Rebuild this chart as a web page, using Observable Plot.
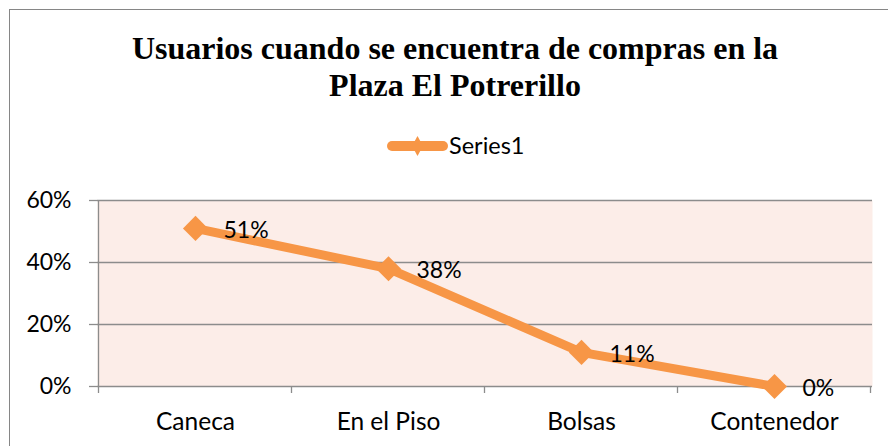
<!DOCTYPE html>
<html>
<head>
<meta charset="utf-8">
<script src="https://cdn.jsdelivr.net/npm/d3@7"></script>
<script src="https://cdn.jsdelivr.net/npm/@observablehq/plot@0.6"></script>
<style>
  html, body { margin: 0; padding: 0; background: #fff; overflow: hidden; }
  #wrap { position: relative; width: 888px; height: 446px; overflow: hidden; background: #fff; }
  #border { position: absolute; left: 9px; top: 9px; width: 1000px; height: 1000px; border: 1px solid #868686; box-sizing: border-box; }
  #title { position: absolute; left: 9px; width: 892px; top: 30px; text-align: center;
           font-family: "Liberation Serif", "Times New Roman", serif; font-weight: bold; font-size: 32px; line-height: 37px; color: #000; }
  #legend-swatch { position: absolute; left: 382px; top: 132px; }
  #legend-text { position: absolute; left: 449px; top: 131px; font-family: Lato, sans-serif; font-size: 23.5px; line-height: 1.2; color: #000; white-space: nowrap; }
  #chart { position: absolute; left: 0; top: 0; }
</style>
</head>
<body>
<div id="wrap">
  <div id="border"></div>
  <div id="title">Usuarios cuando se encuentra de compras en la<br>Plaza El Potrerillo</div>
  <svg id="legend-swatch" width="72" height="28"></svg>
  <div id="legend-text"></div>
  <div id="chart"></div>
</div>
<script>
// ---- data ----
const categories = ["Caneca", "En el Piso", "Bolsas", "Contenedor"];
const values = [0.51, 0.38, 0.11, 0.00];
const yTicks = [0, 0.2, 0.4, 0.6];
const seriesName = "Series1";

// ---- styles ----
const orange = "#F79646";
const gridColor = "#8c8c8c";
const plotFill = "#fcede8";
const fmt = d3.format(".0%");

const data = categories.map((c, i) => ({cat: c, value: values[i]}));

const diamond = {
  draw(ctx, size) {
    const r = Math.sqrt(size / 2);
    ctx.moveTo(0, -r); ctx.lineTo(r, 0); ctx.lineTo(0, r); ctx.lineTo(-r, 0); ctx.closePath();
  }
};

// axis line + category boundary ticks, positioned from the scales
const axisFrame = (index, scales) => {
  const xs = categories.map(c => scales.x(c));
  const step = xs[1] - xs[0];
  const bounds = [xs[0] - step / 2, ...xs.map(x => x + step / 2)];
  const y0 = scales.y(0), yTop = scales.y(d3.max(yTicks));
  const g = d3.create("svg:g").attr("stroke", gridColor).attr("stroke-width", 1.3);
  g.append("line").attr("x1", bounds[0]).attr("x2", bounds[0]).attr("y1", yTop).attr("y2", y0);
  g.selectAll(null).data(bounds).join("line")
    .attr("x1", d => d).attr("x2", d => d).attr("y1", y0).attr("y2", y0 + 7);
  return g.node();
};

const chart = Plot.plot({
  width: 888,
  height: 446,
  marginLeft: 97,
  marginRight: 16,
  marginTop: 200,
  marginBottom: 60,
  style: {background: "transparent", fontFamily: "Lato, sans-serif", fontSize: "23px", color: "#000"},
  x: {type: "point", domain: categories, padding: 0.5, axis: null, label: null},
  y: {domain: [0, d3.max(yTicks)], axis: null, label: null},
  marks: [
    Plot.frame({fill: plotFill, stroke: "none"}),
    Plot.gridY(yTicks, {stroke: gridColor, strokeOpacity: 1, strokeWidth: 1.3}),
    axisFrame,
    Plot.axisY(yTicks, {label: null, tickSize: 8, tickPadding: 18, tickFormat: fmt, stroke: gridColor, strokeWidth: 1.3, fill: "#000", fontSize: 23}),
    Plot.axisX({label: null, tickSize: 0, tickPadding: 26, fill: "#000", fontSize: 24.5}),
    Plot.line(data, {x: "cat", y: "value", stroke: orange, strokeWidth: 9, strokeLinejoin: "round"}),
    Plot.dot(data, {x: "cat", y: "value", symbol: diamond, r: 10, fill: orange, stroke: "none"}),
    Plot.text(data, {x: "cat", y: "value", text: d => fmt(d.value), textAnchor: "start", dx: 28, dy: 2, fontSize: 23, fill: "#000"})
  ]
});
document.getElementById("chart").appendChild(chart);

// legend
const sw = d3.select("#legend-swatch");
sw.append("line").attr("x1", 10).attr("x2", 61).attr("y1", 14).attr("y2", 14)
  .attr("stroke", orange).attr("stroke-width", 10).attr("stroke-linecap", "round");
sw.append("path").attr("d", "M35.5,4 L41,14 L35.5,24 L30,14 Z").attr("fill", orange);
document.getElementById("legend-text").textContent = seriesName;
</script>
</body>
</html>
